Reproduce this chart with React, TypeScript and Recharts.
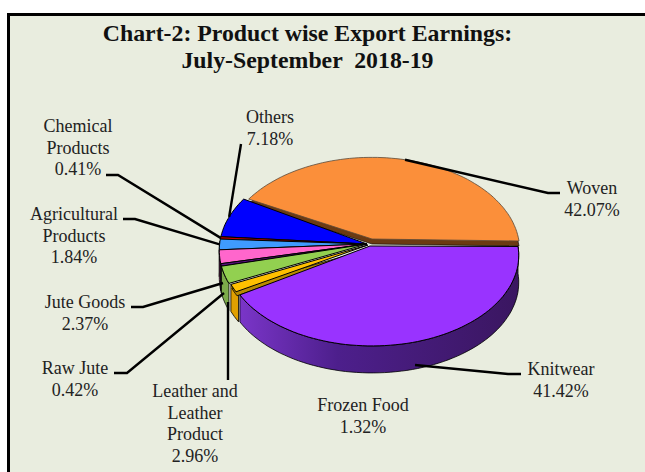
import { PieChart, Pie, Cell } from 'recharts';

const products = ['Woven', 'Others', 'Chemical Products', 'Agricultural Products', 'Jute Goods', 'Raw Jute', 'Leather and Leather Product', 'Frozen Food', 'Knitwear'];
const shares = [42.07, 7.18, 0.41, 1.84, 2.37, 0.42, 2.96, 1.32, 41.42];
const topColors = ['#fb8f3a', '#0000ff', '#c00000', '#3f9bff', '#ff66cc', '#5a1080', '#92d050', '#ffc000', '#9933ff'];
const wallColors = ['#6b3a12', '#00009a', '#700000', '#1f5fa8', '#a03c80', '#300850', '#7cab4a', '#e0a000', 'url(#knitWall)'];
const titleLines = ['Chart-2: Product wise Export Earnings:', 'July-September  2018-19'];

const data = products.map((name, i) => ({ name, value: shares[i] }));

// rim centre and wedge tip of each slice on the picture, the slices are pulled apart a little
const RIMS = [
  { x: 372, y: 241, rx: 147, ry: 92, tipX: 372, tipY: 239 },
  { x: 367, y: 241, rx: 147, ry: 92, tipX: 367, tipY: 244 },
  { x: 367, y: 241, rx: 147, ry: 92, tipX: 367, tipY: 244 },
  { x: 367, y: 241, rx: 147, ry: 92, tipX: 367, tipY: 244 },
  { x: 367, y: 241, rx: 147, ry: 92, tipX: 367, tipY: 244 },
  { x: 367, y: 241, rx: 147, ry: 92, tipX: 367, tipY: 244 },
  { x: 367, y: 241, rx: 147, ry: 92, tipX: 367, tipY: 244 },
  { x: 369, y: 242, rx: 147, ry: 92, tipX: 368, tipY: 245 },
  { x: 372, y: 246.5, rx: 146, ry: 89.5, tipX: 370, tipY: 246 },
];
const TILT = 0.1;
const DEPTH = 27;
const LINE_GAP = 21.5;

// label text position and leader line for each slice
const LABELS: Record<string, { x: number; y: number; lines: string[]; from?: number[]; anchor?: number[][] }> = {
  Woven: { x: 592, y: 194, lines: ['Woven', '42.07%'], anchor: [[548, 193], [560, 193]] },
  Others: { x: 270, y: 123, lines: ['Others', '7.18%'], anchor: [[241, 144]] },
  'Chemical Products': { x: 78, y: 132, lines: ['Chemical', 'Products', '0.41%'], anchor: [[118, 175], [106, 175]] },
  'Agricultural Products': { x: 74, y: 220, lines: ['Agricultural', 'Products', '1.84%'], anchor: [[135, 219], [123, 219]] },
  'Jute Goods': { x: 85, y: 308, lines: ['Jute Goods', '2.37%'], from: [223, 283], anchor: [[143, 307], [131, 307]] },
  'Raw Jute': { x: 75, y: 374, lines: ['Raw Jute', '0.42%'], from: [224, 293], anchor: [[127, 373], [114, 373]] },
  'Leather and Leather Product': { x: 195, y: 397, lines: ['Leather and', 'Leather', 'Product', '2.96%'], from: [228, 302], anchor: [[228, 380]] },
  'Frozen Food': { x: 363, y: 411, lines: ['Frozen Food', '1.32%'] },
  Knitwear: { x: 561, y: 375, lines: ['Knitwear', '41.42%'], anchor: [[508, 374], [521, 374]] },
};

const project = (rim: (typeof RIMS)[number], deg: number) => {
  const u = Math.cos((deg * Math.PI) / 180);
  const v = Math.sin((deg * Math.PI) / 180);
  const w = 1 + TILT * v;
  return { x: rim.x + (rim.rx * u) / w, y: rim.y - (rim.ry * v) / w };
};

const arcPoints = (rim: (typeof RIMS)[number], from: number, to: number) => {
  const steps = Math.max(2, Math.ceil(Math.abs(to - from) / 2));
  const pts = [];
  for (let i = 0; i <= steps; i++) pts.push(project(rim, from + ((to - from) * i) / steps));
  return pts;
};

const toPath = (pts: { x: number; y: number }[]) =>
  pts.map((p, i) => `${i ? 'L' : 'M'}${p.x.toFixed(1)},${p.y.toFixed(1)}`).join('') + 'Z';

function Slice(props: any) {
  const { startAngle, endAngle, index } = props;
  const i = index ?? products.indexOf(props.name);
  const rim = RIMS[i];
  const tip = { x: rim.tipX, y: rim.tipY };
  const top = arcPoints(rim, startAngle, endAngle);
  const face = toPath([tip, ...top]);

  let wall = null;
  if (i === 0) {
    // the woven slice is lifted, so its cut faces show under it
    const shifted = [tip, ...top].map((p) => ({ x: p.x, y: p.y + 5 }));
    wall = <path d={toPath(shifted)} fill={wallColors[i]} stroke="#000" strokeWidth={0.6} />;
  } else if (endAngle > 180) {
    // frozen food shows a sliver of its cut face next to knitwear
    const wallEnd = i === 7 ? endAngle + 2 : endAngle;
    const edge = arcPoints(rim, Math.max(startAngle, 180), wallEnd);
    const down = edge.map((p) => ({ x: p.x, y: p.y + DEPTH })).reverse();
    wall = <path d={toPath([...edge, ...down])} fill={wallColors[i]} stroke="#000" strokeWidth={0.8} />;
  }
  const cut =
    i === 7 ? (
      <path
        d={toPath([tip, ...top].map((p) => ({ x: p.x + 1, y: p.y + 4 })))}
        fill="#b88a00"
        stroke="#000"
        strokeWidth={0.8}
      />
    ) : null;
  return (
    <g>
      {wall}
      {cut}
      <path d={face} fill={topColors[i]} stroke={i === 0 ? '#5a4a3a' : '#000'} strokeWidth={i === 0 ? 0.8 : 1} />
    </g>
  );
}

function SliceLabel(props: any) {
  const { midAngle, name, index } = props;
  const info = LABELS[name];
  if (!info) return null;
  const i = index ?? products.indexOf(name);
  const point = project(RIMS[i], midAngle);
  const start = info.from
    ? { x: info.from[0], y: info.from[1] }
    : { x: point.x, y: point.y + (Math.sin((midAngle * Math.PI) / 180) < -0.5 ? DEPTH - 4 : 0) };
  const leader = info.anchor ? [start, ...info.anchor.map(([x, y]) => ({ x, y }))] : null;
  return (
    <g>
      {leader && (
        <polyline
          points={leader.map((p) => `${p.x},${p.y}`).join(' ')}
          fill="none"
          stroke="#000"
          strokeWidth={2.4}
        />
      )}
      <text textAnchor="middle" fontFamily="'Liberation Serif', serif" fontSize={18} fill="#222">
        {info.lines.map((line, k) => (
          <tspan key={k} x={info.x} y={info.y + k * LINE_GAP}>
            {line}
          </tspan>
        ))}
      </text>
    </g>
  );
}

export default function App() {
  return (
    <div style={{ position: 'absolute', left: 0, top: 0, width: 645, height: 472, background: '#fff', overflow: 'hidden' }}>
      <div
        style={{
          position: 'absolute',
          left: 7,
          top: 13,
          width: 660,
          height: 480,
          boxSizing: 'border-box',
          border: '3px solid #000',
          background: '#e9eddf',
        }}
      />
      <div
        style={{
          position: 'absolute',
          left: 0,
          top: 20,
          width: 615,
          textAlign: 'center',
          fontFamily: "'Liberation Serif', serif",
          fontWeight: 'bold',
          fontSize: 23.8,
          lineHeight: '27px',
          whiteSpace: 'pre',
          color: '#111',
        }}
      >
        {titleLines.map((line) => (
          <div key={line}>{line}</div>
        ))}
      </div>
      <div style={{ position: 'absolute', left: 0, top: 0 }}>
        <PieChart width={645} height={472} margin={{ top: 0, right: 0, bottom: 0, left: 0 }}>
          <defs>
            <linearGradient id="knitWall" x1="0" y1="0" x2="1" y2="0">
              <stop offset="0%" stopColor="#7a35c8" />
              <stop offset="35%" stopColor="#4d1f8c" />
              <stop offset="100%" stopColor="#3a1660" />
            </linearGradient>
          </defs>
          <Pie
            data={data}
            dataKey="value"
            nameKey="name"
            cx={370}
            cy={245}
            outerRadius={147}
            startAngle={0}
            endAngle={360}
            paddingAngle={0}
            stroke="none"
            shape={Slice}
            label={SliceLabel}
            labelLine={false}
            isAnimationActive={false}
          >
            {data.map((d, i) => (
              <Cell key={d.name} fill={topColors[i]} />
            ))}
          </Pie>
        </PieChart>
      </div>
    </div>
  );
}
